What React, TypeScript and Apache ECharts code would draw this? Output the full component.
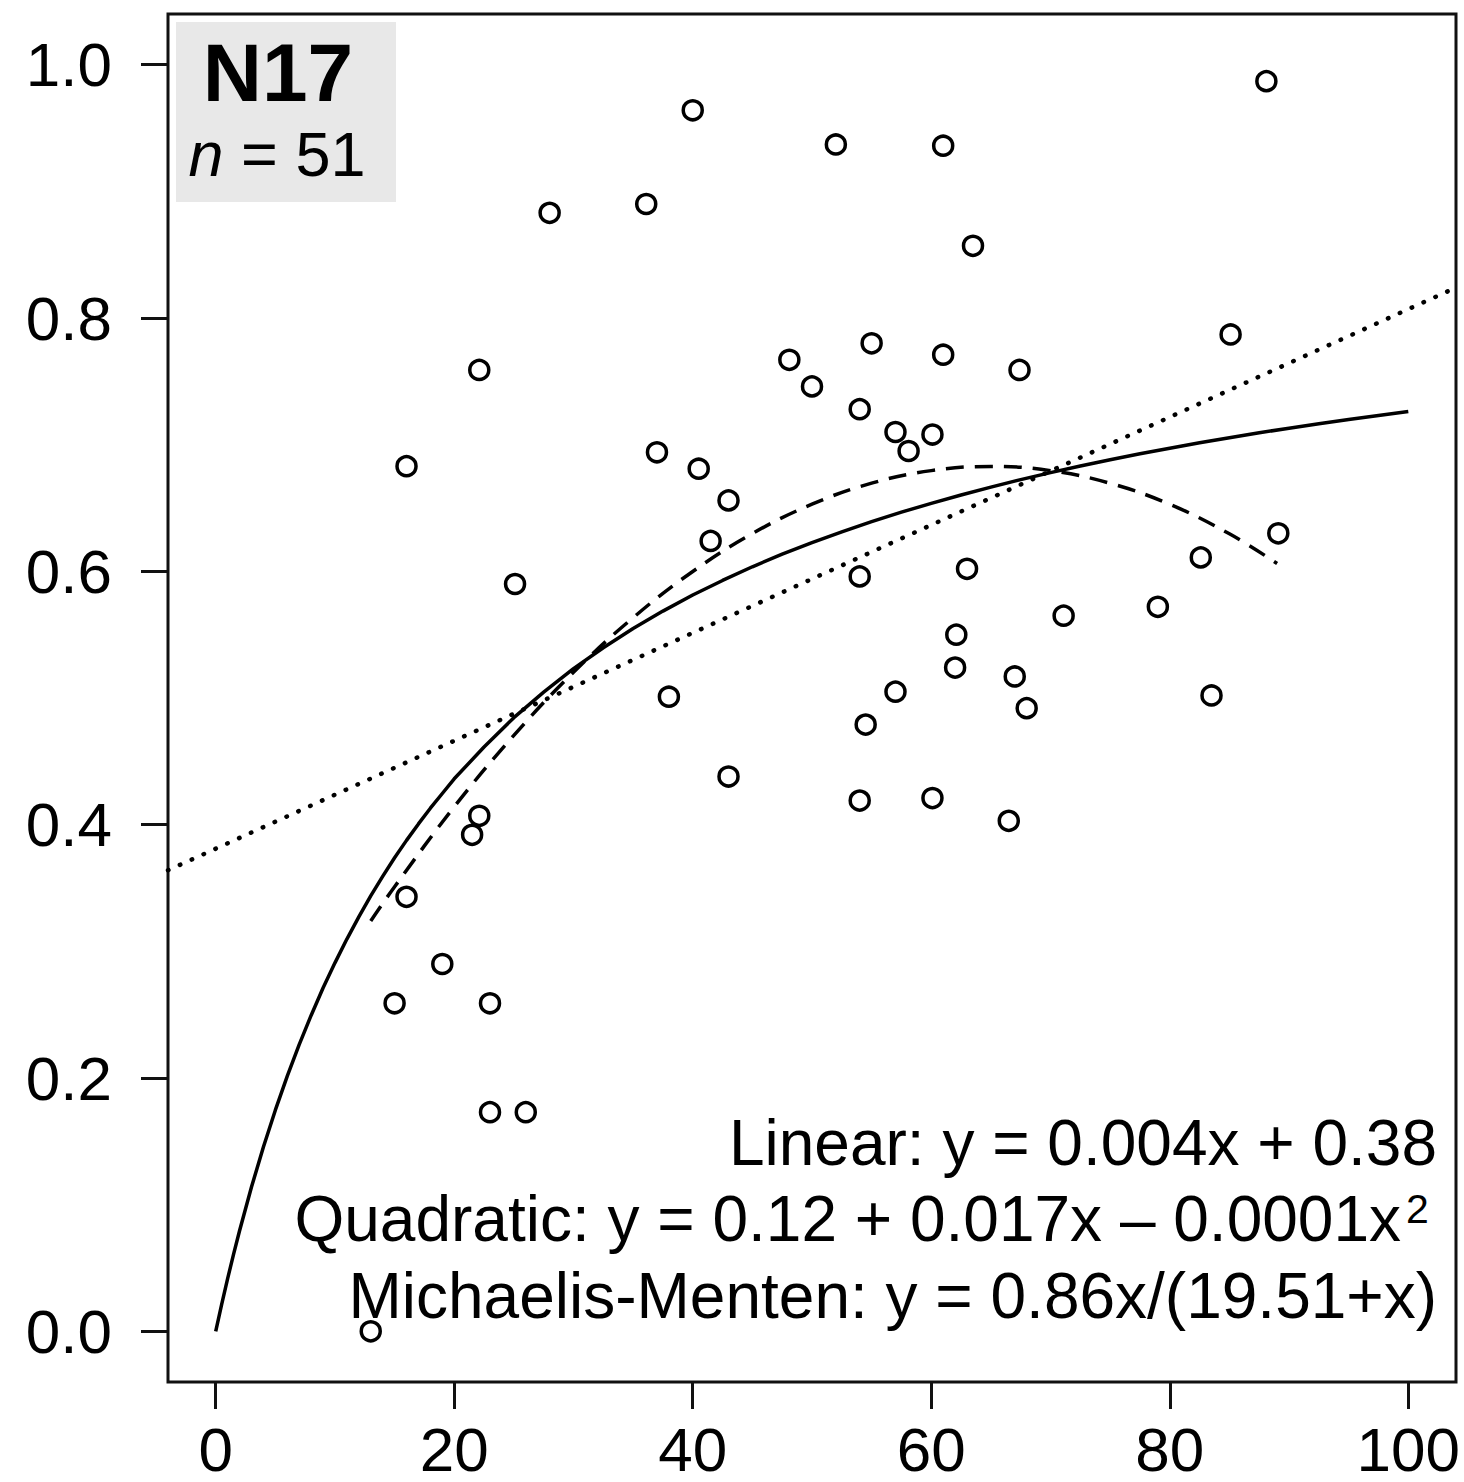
import React, { useEffect, useRef } from "react";
import * as echarts from "echarts";

// ---- data ----
const xTicks = [0, 20, 40, 60, 80, 100];
const yTicks = [0, 0.2, 0.4, 0.6, 0.8, 1.0];

const pointsX = [88.1, 40.0, 52.0, 61.0, 36.1, 28.0, 63.5, 85.1, 55.0, 48.1, 61.0, 22.1, 67.4, 50.0, 54.0, 57.0, 60.1, 58.1, 16.0, 37.0, 40.5, 43.0, 41.5, 89.1, 82.6, 25.1, 54.0, 63.0, 79.0, 71.1, 62.1, 62.0, 67.0, 57.0, 38.0, 83.5, 68.0, 54.5, 43.0, 54.0, 60.1, 66.5, 22.1, 21.5, 16.0, 19.0, 15.0, 23.0, 23.0, 26.0, 13.0];
const pointsY = [0.987, 0.964, 0.937, 0.936, 0.890, 0.883, 0.857, 0.787, 0.780, 0.767, 0.771, 0.759, 0.759, 0.746, 0.728, 0.710, 0.708, 0.695, 0.683, 0.694, 0.681, 0.656, 0.624, 0.630, 0.611, 0.590, 0.596, 0.602, 0.572, 0.565, 0.550, 0.524, 0.517, 0.505, 0.501, 0.502, 0.492, 0.479, 0.438, 0.419, 0.421, 0.403, 0.407, 0.392, 0.343, 0.290, 0.259, 0.259, 0.173, 0.173, 0.000];

// Michaelis-Menten fit curve (solid)
const mmX = [0, 0.5, 1, 1.5, 2, 3, 4, 5, 6, 7, 8, 9, 10, 11, 12, 13, 14, 15, 16, 17, 18, 19, 20, 22.5, 25, 27.5, 30, 32.5, 35, 37.5, 40, 42.5, 45, 47.5, 50, 52.5, 55, 57.5, 60, 62.5, 65, 67.5, 70, 72.5, 75, 77.5, 80, 82.5, 85, 87.5, 90, 92.5, 95, 97.5, 100];
const mmY = [0, 0.0213, 0.0416, 0.0610, 0.0794, 0.1139, 0.1455, 0.1746, 0.2015, 0.2264, 0.2494, 0.2710, 0.2909, 0.3097, 0.3272, 0.3438, 0.3592, 0.3739, 0.3876, 0.4006, 0.4130, 0.4246, 0.4362, 0.4613, 0.4845, 0.5046, 0.5232, 0.5397, 0.5549, 0.5686, 0.5813, 0.5928, 0.6036, 0.6135, 0.6227, 0.6312, 0.6392, 0.6467, 0.6537, 0.6603, 0.6665, 0.6724, 0.6779, 0.6831, 0.6881, 0.6928, 0.6972, 0.7015, 0.7055, 0.7094, 0.7130, 0.7165, 0.7199, 0.7231, 0.7262];

// Quadratic fit curve (dashed)
const quadX = [13, 15, 20, 25, 30, 35, 40, 45, 50, 55, 60, 65, 70, 75, 80, 85, 89];
const quadY = [0.3239, 0.3510, 0.4141, 0.4705, 0.5203, 0.5634, 0.5999, 0.6298, 0.6530, 0.6696, 0.6795, 0.6828, 0.6795, 0.6695, 0.6529, 0.6296, 0.6062];

// Linear fit line (dotted), across the whole panel
const linX = [-4, 104];
const linY = [0.364, 0.824];

const panelTitle = "N17";
const panelN = "51";
const eqLinear = "Linear: y = 0.004x + 0.38";
const eqQuad = "Quadratic: y = 0.12 + 0.017x \u2013 0.0001x";
const eqQuadSup = "2";
const eqMM = "Michaelis-Menten: y = 0.86x/(19.51+x)";

const FONT = '"Liberation Sans", Arial, Helvetica, sans-serif';
const INK = "#000";

const zip = (xs: number[], ys: number[]) => xs.map((x, i) => [x, ys[i]]);

export default function App() {
  const ref = useRef<HTMLDivElement>(null);

  useEffect(() => {
    if (!ref.current) return;
    const chart = echarts.init(ref.current, null, { renderer: "svg" });
    const eqStyle = {
      fontSize: 64,
      fontFamily: FONT,
      fill: "#000",
      verticalAlign: "middle",
    };
    const option: any = {
      animation: false,
      backgroundColor: "#ffffff",
      grid: {
        left: 168,
        top: 14,
        width: 1288,
        height: 1368,
        show: true,
        borderColor: "#111",
        borderWidth: 3,
        backgroundColor: "transparent",
        containLabel: false,
        outerBoundsMode: "none",
      },
      xAxis: {
        type: "value",
        min: -4,
        max: 104,
        axisLine: { show: false, onZero: false },
        splitLine: { show: false },
        axisTick: {
          show: true,
          inside: false,
          length: 27,
          customValues: xTicks,
          lineStyle: { color: "#111", width: 3 },
        },
        axisLabel: {
          customValues: xTicks,
          margin: 67,
          verticalAlign: "middle",
          fontSize: 62,
          color: "#000",
          fontFamily: FONT,
          formatter: (v: number) => String(v),
        },
      },
      yAxis: {
        type: "value",
        min: -0.04,
        max: 1.04,
        axisLine: { show: false, onZero: false },
        splitLine: { show: false },
        axisTick: {
          show: true,
          inside: false,
          length: 27,
          customValues: yTicks,
          lineStyle: { color: "#111", width: 3 },
        },
        axisLabel: {
          customValues: yTicks,
          margin: 56,
          align: "right",
          verticalAlign: "middle",
          fontSize: 62,
          color: "#000",
          fontFamily: FONT,
          formatter: (v: number) => v.toFixed(1),
        },
      },
      series: [
        {
          type: "line",
          name: "Linear",
          data: zip(linX, linY),
          symbol: "none",
          lineStyle: { color: INK, width: 4.5, type: [0.5, 12.5], cap: "round" },
          z: 2,
        },
        {
          type: "line",
          name: "Quadratic",
          data: zip(quadX, quadY),
          symbol: "none",
          smooth: 0.4,
          lineStyle: { color: INK, width: 3.5, type: [18, 11] },
          z: 2,
        },
        {
          type: "line",
          name: "Michaelis-Menten",
          data: zip(mmX, mmY),
          symbol: "none",
          smooth: false,
          lineStyle: { color: INK, width: 3.5, join: "round" },
          z: 2,
        },
        {
          type: "scatter",
          name: "points",
          data: zip(pointsX, pointsY),
          symbol: "circle",
          symbolSize: 19,
          itemStyle: { color: "rgba(255,255,255,0)", borderColor: INK, borderWidth: 3.5, opacity: 1 },
          z: 3,
        },
      ],
      graphic: [
        {
          type: "rect",
          shape: { x: 176, y: 22, width: 220, height: 180 },
          style: { fill: "#e8e8e8" },
          z: -1,
        },
        {
          type: "text",
          x: 278,
          y: 72,
          style: {
            text: panelTitle,
            fontSize: 82,
            fontWeight: "bold",
            fontFamily: FONT,
            fill: "#000",
            align: "center",
            verticalAlign: "middle",
          },
        },
        {
          type: "text",
          x: 277,
          y: 154,
          style: {
            text: "{i|n} = " + panelN,
            fontSize: 63,
            fontFamily: FONT,
            fill: "#000",
            align: "center",
            verticalAlign: "middle",
            rich: {
              i: { fontStyle: "italic", fontSize: 63, fontFamily: FONT, fill: "#000" },
            },
          },
        },
        {
          type: "text",
          x: 1437,
          y: 1143,
          style: { ...eqStyle, text: eqLinear, align: "right" },
        },
        {
          type: "text",
          x: 1401,
          y: 1219,
          style: { ...eqStyle, text: eqQuad, align: "right" },
        },
        {
          type: "text",
          x: 1406,
          y: 1209,
          style: {
            text: eqQuadSup,
            fontSize: 41,
            fontFamily: FONT,
            fill: "#000",
            align: "left",
            verticalAlign: "middle",
          },
        },
        {
          type: "text",
          x: 1437,
          y: 1296,
          style: { ...eqStyle, text: eqMM, align: "right" },
        },
      ],
    };
    chart.setOption(option);
    return () => chart.dispose();
  }, []);

  return (
    <div
      ref={ref}
      style={{ position: "absolute", left: 0, top: 0, width: 1464, height: 1482 }}
    />
  );
}
